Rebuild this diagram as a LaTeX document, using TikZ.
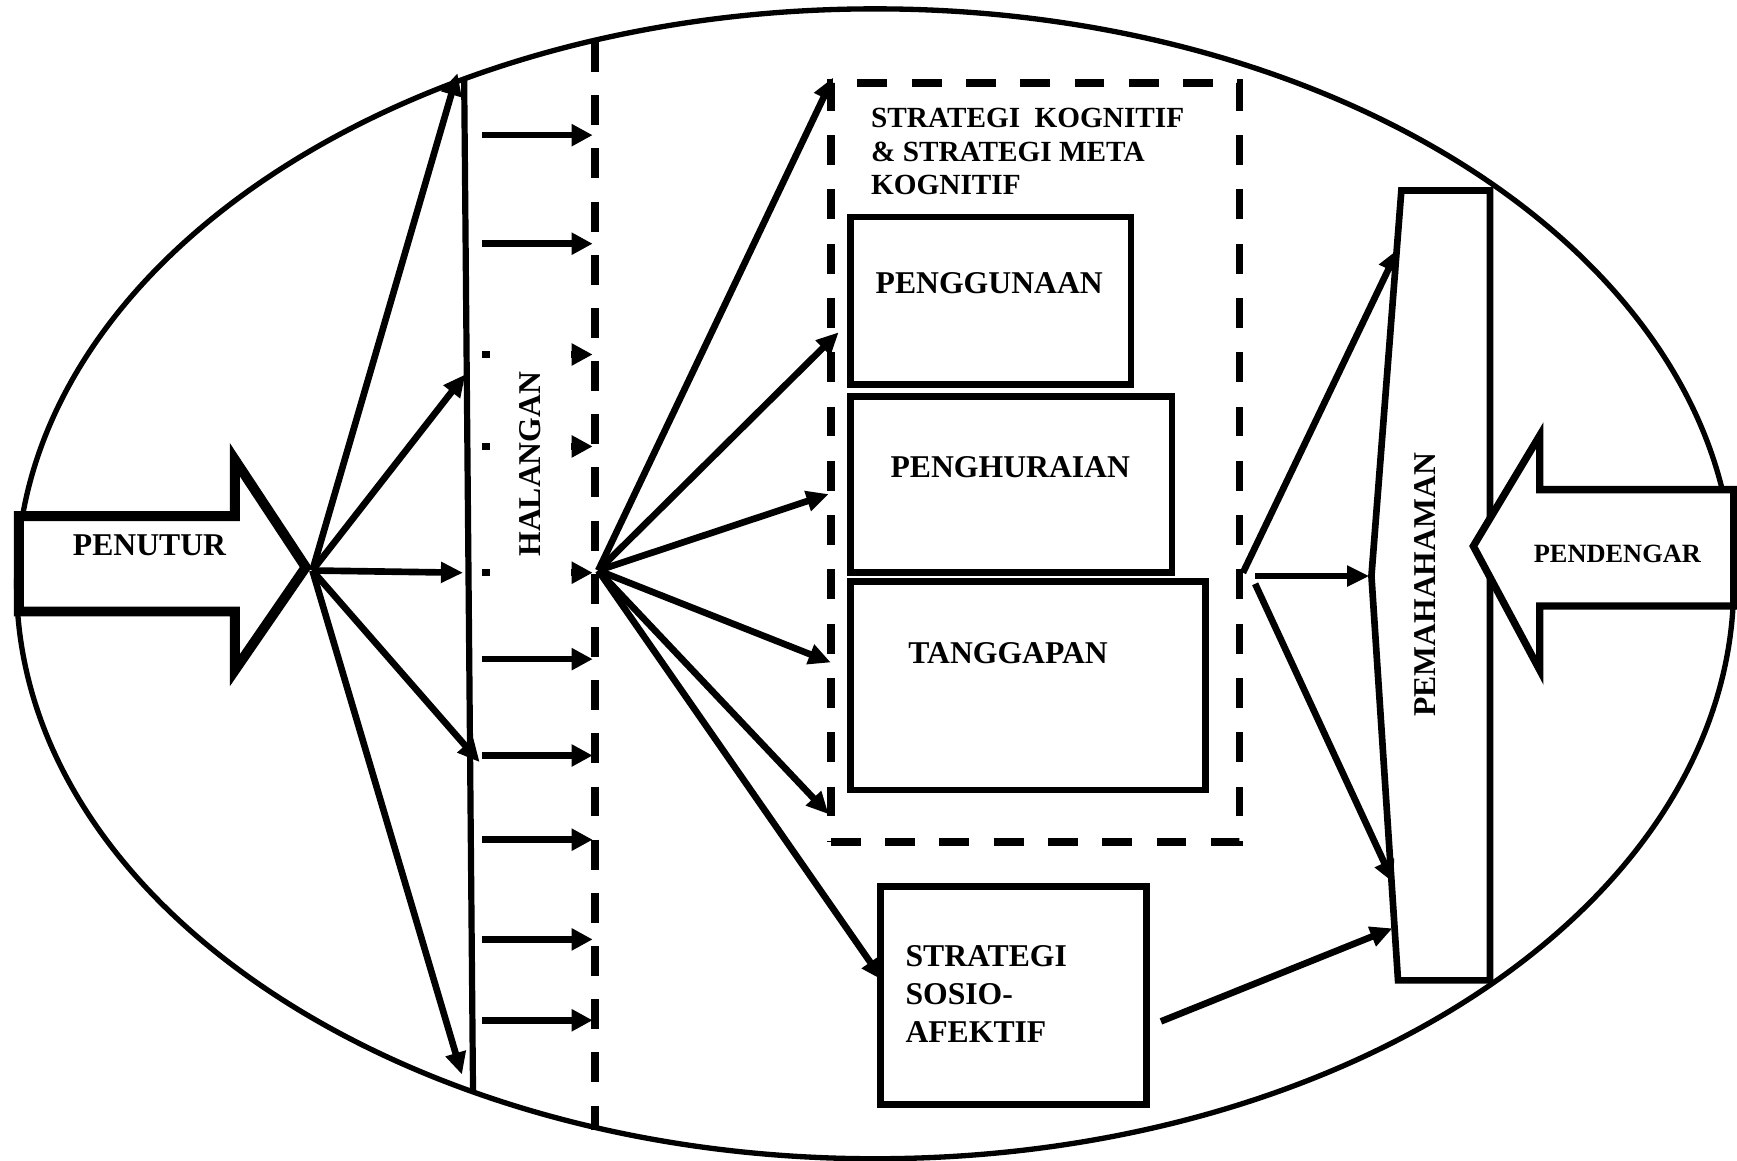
\documentclass[tikz,border=0pt]{standalone}
\usepackage{fontspec}
\setmainfont{Liberation Serif}
\usetikzlibrary{arrows.meta,fit,positioning}

\tikzset{
  lbl/.style={font=\bfseries\fontsize{14.3pt}{17.25pt}\selectfont, inner sep=0pt},
  smalllbl/.style={font=\bfseries\fontsize{11.9pt}{14pt}\selectfont, inner sep=0pt},
  kognlbl/.style={font=\bfseries\fontsize{13.2pt}{15.25pt}\selectfont, inner sep=0pt, align=left},
  stratbox/.style={draw, line width=3pt, inner sep=0pt},
  dashbox/.style={draw, line width=3.4pt, dash pattern=on 13.5pt off 11pt, inner sep=0pt},
  dashline/.style={line width=3.4pt, dash pattern=on 13.5pt off 10.5pt},
  fanarrow/.style={line width=3pt, -{Triangle[length=10pt,width=9pt]}},
  haltick/.style={line width=3pt, -{Triangle[length=9.5pt,width=9.5pt]}},
  bigarrow/.style={draw, fill=white, line join=miter, miter limit=20},
}

\begin{document}
\begin{tikzpicture}[x=0.5pt, y=-0.5pt]
\useasboundingbox (0,0) rectangle (1568,1048);

% outer ellipse
\draw[line width=2.4pt] (790,527) ellipse [x radius=387.5pt, y radius=259.5pt];

% speaker
\draw[bigarrow, line width=4.5pt] (17,466) -- (212,466) -- (212,415) -- (276,512) -- (212,605) -- (212,552) -- (17,552) -- cycle;
\node[lbl] (penutur) at (135,492) {PENUTUR};
\coordinate (spk) at (282,515);

% barrier
\coordinate (hTop) at (419,71);
\coordinate (hBot) at (427,985);
\draw[line width=2.8pt] (hTop) -- (hBot);

\foreach \x/\y [count=\i] in {413/66, 420/338, 418/517, 433/688, 417/970}
  \coordinate (s\i) at (\x,\y);
\foreach \i in {1,...,5} \draw[fanarrow] (spk) -- (s\i);

\foreach \y [count=\i] in {122,220,320,403,517,595,682,758,848,921}{
  \coordinate (ta\i) at (435,\y);
  \coordinate (tb\i) at (535,\y);
  \draw[haltick] (ta\i) -- (tb\i);
}
\node[lbl, rotate=90, fill=white, minimum width=105pt, minimum height=36.5pt] (halangan) at (479,419) {HALANGAN};

\coordinate (dTop) at (537,38);
\coordinate (dBot) at (537,1020);
\draw[dashline] (dTop) -- (dBot);
\coordinate (hal) at (540,515);

% strategies
\node[dashbox, fit={(750,75) (1119,760)}] (kognitif) {};
\node[kognlbl, anchor=north west] (tKog) at (786,97) {STRATEGI\ \ KOGNITIF\\\& STRATEGI META\\KOGNITIF};
\node[stratbox, fit={(768,196) (1021,347)}] (guna) {};
\node[stratbox, fit={(768,358) (1058,517)}] (hurai) {};
\node[stratbox, fit={(768,525) (1088,713)}] (tanggap) {};
\node[stratbox, fit={(795,800) (1035,997)}] (sosio) {};
\node[lbl] (tGuna) at (893,256) {PENGGUNAAN};
\node[lbl] (tHurai) at (912,422) {PENGHURAIAN};
\node[lbl] (tTanggap) at (910,590) {TANGGAPAN};
\node[lbl, align=left, anchor=north west] (tSosio) at (817,853) {STRATEGI\\SOSIO-\\AFEKTIF};

\foreach \x/\y [count=\i] in {752/70, 757/300, 748/446, 750/598, 748/735, 797/885}
  \coordinate (k\i) at (\x,\y);
\foreach \i in {1,...,6} \draw[fanarrow] (hal) -- (k\i);

% understanding
\draw[line width=3pt, line join=miter] (1265,172) -- (1345,172) -- (1345,885) -- (1262,885) -- (1238,520) -- cycle;
\node[lbl, rotate=90] (pemahaman) at (1286,528) {PEMAHAHAMAN};

\coordinate (r1) at (1122,517);
\coordinate (r2) at (1133,520);
\coordinate (r3) at (1133,527);
\coordinate (r4) at (1048,922);
\coordinate (p1) at (1262,225);
\coordinate (p2) at (1236,520);
\coordinate (p3) at (1258,797);
\coordinate (p4) at (1257,838);
\foreach \i in {1,...,4} \draw[fanarrow] (r\i) -- (p\i);

% listener
\draw[bigarrow, line width=3.3pt] (1330,493) -- (1390,393) -- (1390,442) -- (1565,442) -- (1565,547) -- (1390,547) -- (1390,605) -- cycle;
\node[smalllbl] (pendengar) at (1460,500) {PENDENGAR};
\end{tikzpicture}
\end{document}
